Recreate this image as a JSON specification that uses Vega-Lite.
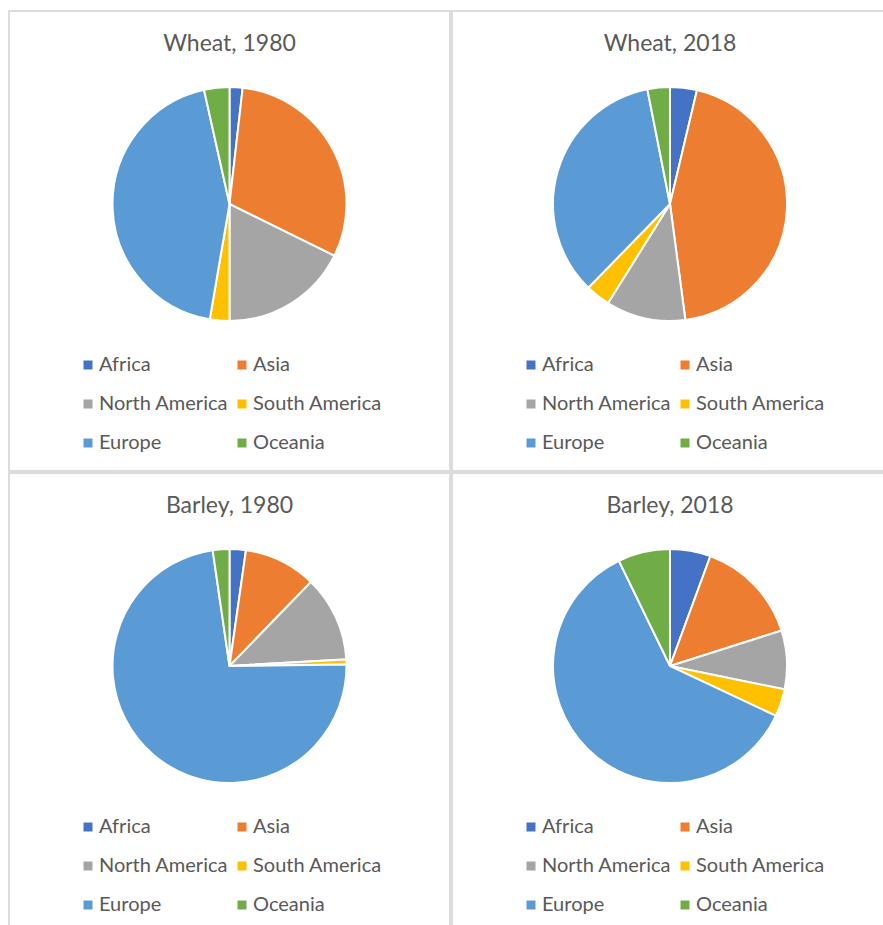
{
  "$schema": "https://vega.github.io/schema/vega-lite/v6.json",
  "padding": {"left": 8, "top": 10, "right": 0, "bottom": 0},
  "background": "white",
  "config": {
    "view": {"stroke": null},
    "font": "Lato",
    "concat": {"spacing": 0},
    "legend": {"title": null, "orient": "none", "legendX": 69, "legendY": 344, "columns": 2, "columnPadding": 3, "rowPadding": 19, "symbolType": "square", "symbolSize": 81, "symbolStrokeWidth": 0, "labelFontSize": 20, "labelColor": "#595959", "labelFont": "Lato", "symbolOffset": 0, "labelOffset": 1},
    "title": {"offset": -46, "fontSize": 23, "fontWeight": "normal", "color": "#595959", "anchor": "middle", "font": "Lato"}
  },
  "data": {"values": [
    {"chart": "Wheat, 1980", "region": "Africa", "share": 1.8, "rank": 1},
    {"chart": "Wheat, 1980", "region": "Asia", "share": 30.5, "rank": 2},
    {"chart": "Wheat, 1980", "region": "North America", "share": 17.7, "rank": 3},
    {"chart": "Wheat, 1980", "region": "South America", "share": 2.7, "rank": 4},
    {"chart": "Wheat, 1980", "region": "Europe", "share": 43.8, "rank": 5},
    {"chart": "Wheat, 1980", "region": "Oceania", "share": 3.5, "rank": 6},
    {"chart": "Wheat, 2018", "region": "Africa", "share": 3.7, "rank": 1},
    {"chart": "Wheat, 2018", "region": "Asia", "share": 44.2, "rank": 2},
    {"chart": "Wheat, 2018", "region": "North America", "share": 11.0, "rank": 3},
    {"chart": "Wheat, 2018", "region": "South America", "share": 3.4, "rank": 4},
    {"chart": "Wheat, 2018", "region": "Europe", "share": 34.6, "rank": 5},
    {"chart": "Wheat, 2018", "region": "Oceania", "share": 3.1, "rank": 6},
    {"chart": "Barley, 1980", "region": "Africa", "share": 2.25, "rank": 1},
    {"chart": "Barley, 1980", "region": "Asia", "share": 10.0, "rank": 2},
    {"chart": "Barley, 1980", "region": "North America", "share": 11.85, "rank": 3},
    {"chart": "Barley, 1980", "region": "South America", "share": 0.7, "rank": 4},
    {"chart": "Barley, 1980", "region": "Europe", "share": 72.9, "rank": 5},
    {"chart": "Barley, 1980", "region": "Oceania", "share": 2.3, "rank": 6},
    {"chart": "Barley, 2018", "region": "Africa", "share": 5.6, "rank": 1},
    {"chart": "Barley, 2018", "region": "Asia", "share": 14.5, "rank": 2},
    {"chart": "Barley, 2018", "region": "North America", "share": 8.1, "rank": 3},
    {"chart": "Barley, 2018", "region": "South America", "share": 3.8, "rank": 4},
    {"chart": "Barley, 2018", "region": "Europe", "share": 60.8, "rank": 5},
    {"chart": "Barley, 2018", "region": "Oceania", "share": 7.2, "rank": 6}
  ]},
  "columns": 2,
  "spacing": 0,
  "concat": [
    {
      "width": 441, "height": 460,
      "title": {"text": "Wheat, 1980"},
      "layer": [
        {"data": {"values": [{"frame": "panel"}]}, "mark": {"type": "rect", "filled": false, "stroke": "#dcdcdc", "strokeWidth": 2}, "encoding": {}},
        {
          "transform": [{"filter": "datum.chart === 'Wheat, 1980'"}],
          "mark": {"type": "arc", "outerRadius": 117, "stroke": "white", "strokeWidth": 2, "yOffset": -37},
          "encoding": {
            "theta": {"field": "share", "type": "quantitative", "stack": true},
            "order": {"field": "rank", "type": "quantitative"},
            "color": {"field": "region", "type": "nominal",
              "scale": {"domain": ["Africa", "North America", "Europe", "Asia", "South America", "Oceania"], "range": ["#4472C4", "#A5A5A5", "#5B9BD5", "#ED7D31", "#FFC000", "#70AD47"]}}
          }
        }
      ]
    },
    {
      "width": 436, "height": 460,
      "title": {"text": "Wheat, 2018"},
      "layer": [
        {"data": {"values": [{"frame": "panel"}]}, "mark": {"type": "rect", "filled": false, "stroke": "#dcdcdc", "strokeWidth": 2}, "encoding": {}},
        {
          "transform": [{"filter": "datum.chart === 'Wheat, 2018'"}],
          "mark": {"type": "arc", "outerRadius": 117, "stroke": "white", "strokeWidth": 2, "yOffset": -37},
          "encoding": {
            "theta": {"field": "share", "type": "quantitative", "stack": true},
            "order": {"field": "rank", "type": "quantitative"},
            "color": {"field": "region", "type": "nominal",
              "scale": {"domain": ["Africa", "North America", "Europe", "Asia", "South America", "Oceania"], "range": ["#4472C4", "#A5A5A5", "#5B9BD5", "#ED7D31", "#FFC000", "#70AD47"]}}
          }
        }
      ]
    },
    {
      "width": 441, "height": 455,
      "title": {"text": "Barley, 1980"},
      "layer": [
        {"data": {"values": [{"frame": "panel"}]}, "mark": {"type": "rect", "filled": false, "stroke": "#dcdcdc", "strokeWidth": 2}, "encoding": {}},
        {
          "transform": [{"filter": "datum.chart === 'Barley, 1980'"}],
          "mark": {"type": "arc", "outerRadius": 117, "stroke": "white", "strokeWidth": 2, "yOffset": -34.5},
          "encoding": {
            "theta": {"field": "share", "type": "quantitative", "stack": true},
            "order": {"field": "rank", "type": "quantitative"},
            "color": {"field": "region", "type": "nominal",
              "scale": {"domain": ["Africa", "North America", "Europe", "Asia", "South America", "Oceania"], "range": ["#4472C4", "#A5A5A5", "#5B9BD5", "#ED7D31", "#FFC000", "#70AD47"]}}
          }
        }
      ]
    },
    {
      "width": 436, "height": 455,
      "title": {"text": "Barley, 2018"},
      "layer": [
        {"data": {"values": [{"frame": "panel"}]}, "mark": {"type": "rect", "filled": false, "stroke": "#dcdcdc", "strokeWidth": 2}, "encoding": {}},
        {
          "transform": [{"filter": "datum.chart === 'Barley, 2018'"}],
          "mark": {"type": "arc", "outerRadius": 117, "stroke": "white", "strokeWidth": 2, "yOffset": -34.5},
          "encoding": {
            "theta": {"field": "share", "type": "quantitative", "stack": true},
            "order": {"field": "rank", "type": "quantitative"},
            "color": {"field": "region", "type": "nominal",
              "scale": {"domain": ["Africa", "North America", "Europe", "Asia", "South America", "Oceania"], "range": ["#4472C4", "#A5A5A5", "#5B9BD5", "#ED7D31", "#FFC000", "#70AD47"]}}
          }
        }
      ]
    }
  ],
  "resolve": {"legend": {"color": "independent"}}
}
